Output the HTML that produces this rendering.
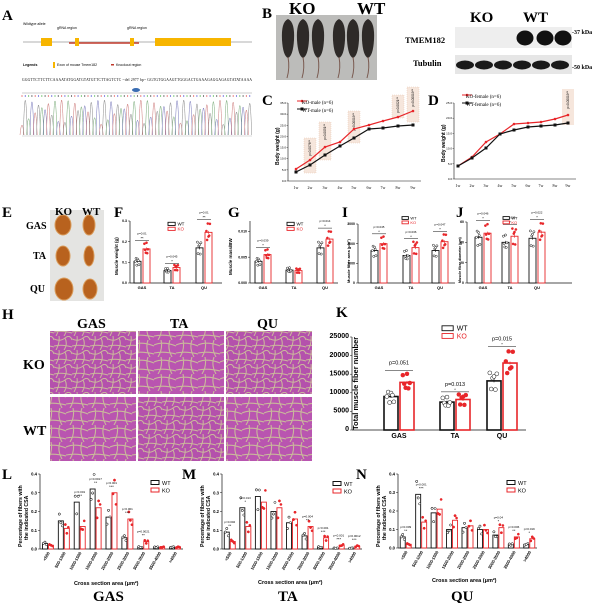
<!DOCTYPE html>
<html><head><meta charset="utf-8"><style>
html,body{margin:0;padding:0;background:#fff;}
svg{display:block;font-family:"Liberation Sans",sans-serif;}
.L{font-family:"Liberation Serif",serif;font-weight:bold;font-size:15px;}
.S{font-family:"Liberation Serif",serif;font-weight:bold;}
</style></head><body>
<svg id="s" width="600" height="603" viewBox="0 0 600 603" xmlns="http://www.w3.org/2000/svg">
<text class="L" x="2" y="20">A</text>
<text class="L" x="262" y="18">B</text>
<text class="L" x="262" y="105">C</text>
<text class="L" x="428" y="105">D</text>
<text class="L" x="2" y="217">E</text>
<text class="L" x="114" y="217">F</text>
<text class="L" x="228" y="217">G</text>
<text class="L" x="342" y="217">I</text>
<text class="L" x="456" y="217">J</text>
<text class="L" x="2" y="319">H</text>
<text class="L" x="336" y="317">K</text>
<text class="L" x="2" y="479">L</text>
<text class="L" x="182" y="479">M</text>
<text class="L" x="356" y="479">N</text>

<text x="23" y="25" style="font-size:3.5px">Wildtype allele</text>
<text x="57" y="29" style="font-size:3.5px">gRNA region</text>
<text x="127" y="29" style="font-size:3.5px">gRNA region</text>
<line x1="23" y1="42" x2="252" y2="42" stroke="#ccc" stroke-width="1.5"/>
<rect x="41" y="38" width="11" height="8" fill="#f7b500"/>
<line x1="69" y1="43" x2="139" y2="43" stroke="#c0392b" stroke-width="1.6"/>
<rect x="75" y="38" width="4" height="8" fill="#f7b500"/>
<rect x="130" y="38" width="4" height="8" fill="#f7b500"/>
<rect x="155" y="38" width="76" height="8" fill="#f7b500"/>
<text x="23" y="66" style="font-size:3.5px;font-weight:bold">Legends</text>
<rect x="53" y="62" width="2" height="6" fill="#f7b500"/>
<text x="57" y="66" style="font-size:3.5px">Exon of mouse Tmem182</text>
<rect x="111" y="64" width="3" height="1.5" fill="#c0392b"/>
<text x="116" y="66" style="font-size:3.5px">Knockout region</text>
<text x="22" y="81" style="font-size:3.6px;font-family:'Liberation Serif',serif" textLength="230">GGGTTCTTCTTCAAAATATGGATGTATGTTCTTAGTCTC ~del 2977 bp~ GGTGTGGAAGTTGGGACTGAAAGAGGAGAGTATATAAAA</text>
<ellipse cx="136" cy="90" rx="4" ry="2" fill="#3a6db3"/>
<line x1="22" y1="93" x2="252" y2="93" stroke="#999" stroke-width="0.6"/>
<g id="chrom"></g>
<line x1="22" y1="136" x2="252" y2="136" stroke="#bbb" stroke-width="0.6"/>

<rect x="276" y="15" width="101" height="65" fill="#bcbcba"/>
<g id="mice"></g>
<text class="S" x="289" y="14" style="font-size:17px">KO</text>
<text class="S" x="357" y="14" style="font-size:17px">WT</text>
<text class="S" x="470" y="22" style="font-size:15px">KO</text>
<text class="S" x="523" y="22" style="font-size:15px">WT</text>
<text class="S" x="405" y="43" style="font-size:8.5px">TMEM182</text>
<text class="S" x="413" y="66" style="font-size:8.5px">Tubulin</text>
<rect x="455" y="27" width="117" height="21" fill="#eeeeee"/>
<rect x="455" y="55" width="117" height="19" fill="#e6e6e6"/>
<g id="blot"></g>
<text class="S" x="572" y="34" style="font-size:6px">-37 kDa</text>
<text class="S" x="572" y="69" style="font-size:6px">-50 kDa</text>

<rect x="50" y="210" width="54" height="91" fill="#e4e4e2"/>
<g id="musc"></g>
<text class="S" x="55" y="215" style="font-size:11px">KO</text>
<text class="S" x="82" y="215" style="font-size:11px">WT</text>
<text class="S" x="26" y="229" style="font-size:10px">GAS</text>
<text class="S" x="33" y="259" style="font-size:10px">TA</text>
<text class="S" x="30" y="292" style="font-size:10px">QU</text>

<defs>
<pattern id="hist" width="18" height="14" patternUnits="userSpaceOnUse">
<rect width="18" height="14" fill="#b451ac"/>
<path d="M0 3 Q6 6 11 2 T18 4 M5 0 Q6 7 2 14 M11 2 Q14 8 10 14 M0 10 Q8 8 18 11" stroke="#cbb99c" stroke-width="1" fill="none"/>
</pattern>
<pattern id="hist2" width="22" height="17" patternUnits="userSpaceOnUse">
<rect width="22" height="17" fill="#b955b0"/>
<path d="M0 5 Q9 1 22 6 M7 0 Q9 9 4 17 M16 0 Q13 8 18 17 M0 13 Q10 11 22 14" stroke="#c9b89b" stroke-width="1.1" fill="none"/>
</pattern>
</defs>
<rect x="50" y="331" width="86" height="63" fill="url(#hist)"/>
<rect x="138" y="331" width="86" height="63" fill="url(#hist2)"/>
<rect x="226" y="331" width="86" height="63" fill="url(#hist)"/>
<rect x="50" y="397" width="86" height="64" fill="url(#hist2)"/>
<rect x="138" y="397" width="86" height="64" fill="url(#hist)"/>
<rect x="226" y="397" width="86" height="64" fill="url(#hist2)"/>
<text class="S" x="77" y="328" style="font-size:14px">GAS</text>
<text class="S" x="170" y="328" style="font-size:14px">TA</text>
<text class="S" x="257" y="328" style="font-size:14px">QU</text>
<text class="S" x="23" y="369" style="font-size:14px">KO</text>
<text class="S" x="23" y="435" style="font-size:14px">WT</text>

<g id="g"></g>

<text x="302" y="104" style="font-size:5px;font-family:'Liberation Serif',serif">KO-male (n=6)</text>
<text x="302" y="112" style="font-size:5px;font-family:'Liberation Serif',serif">WT-male (n=6)</text>
<text x="279" y="165" transform="rotate(-90 279 165)" style="font-size:5px;font-weight:bold">Body weight (g)</text>
<text x="466" y="98" style="font-size:5px;font-family:'Liberation Serif',serif">KO-female (n=6)</text>
<text x="466" y="106" style="font-size:5px;font-family:'Liberation Serif',serif">WT-female (n=6)</text>
<text x="445" y="162" transform="rotate(-90 445 162)" style="font-size:5px;font-weight:bold">Body weight (g)</text>

<text x="118" y="275" transform="rotate(-90 118 275)" style="font-size:4.5px;font-weight:bold">Muscle weight (g)</text>
<text x="232" y="275" transform="rotate(-90 232 275)" style="font-size:4.5px;font-weight:bold">Muscle mass/BW</text>
<text x="350" y="283" transform="rotate(-90 350 283)" style="font-size:4px;font-weight:bold">Muscle fiber area (μm²)</text>
<text x="461" y="283" transform="rotate(-90 461 283)" style="font-size:3.6px;font-weight:bold">Muscle fiber diameter (μm)</text>

<text x="358" y="430" transform="rotate(-90 358 430)" style="font-size:7.5px;font-weight:bold">Total muscle fiber number</text>
<text x="22" y="547" transform="rotate(-90 22 547)" style="font-size:5.2px;font-weight:bold">Percentage of fibers with</text>
<text x="28" y="540" transform="rotate(-90 28 540)" style="font-size:5.2px;font-weight:bold">the indicated CSA</text>
<text x="204" y="547" transform="rotate(-90 204 547)" style="font-size:5.2px;font-weight:bold">Percentage of fibers with</text>
<text x="210" y="540" transform="rotate(-90 210 540)" style="font-size:5.2px;font-weight:bold">the indicated CSA</text>
<text x="380" y="547" transform="rotate(-90 380 547)" style="font-size:5.2px;font-weight:bold">Percentage of fibers with</text>
<text x="386" y="540" transform="rotate(-90 386 540)" style="font-size:5.2px;font-weight:bold">the indicated CSA</text>
<text x="74" y="585" style="font-size:5.5px;font-weight:bold">Cross section area (μm²)</text>
<text x="258" y="584" style="font-size:5.5px;font-weight:bold">Cross section area (μm²)</text>
<text x="432" y="582" style="font-size:5.5px;font-weight:bold">Cross section area (μm²)</text>
<text class="S" x="93" y="601" style="font-size:15px">GAS</text>
<text class="S" x="278" y="601" style="font-size:15px">TA</text>
<text class="S" x="451" y="601" style="font-size:15px">QU</text>
</svg>
<script>
const S=document.getElementById('g'),NS='http://www.w3.org/2000/svg';
function el(t,a,p){const e=document.createElementNS(NS,t);for(const k in a)e.setAttribute(k,a[k]);(p||S).appendChild(e);return e;}
function tx(x,y,s,sz,anchor,extra){const e=el('text',Object.assign({x,y,'font-size':sz,'text-anchor':anchor||'start'},extra||{}));e.textContent=s;return e;}
const R='#e8262a',K='#111';
(function(){const g=document.getElementById('chrom');const cols=['#c77','#77b','#7a7','#888'];
for(let i=0;i<70;i++){const x=22+i*3.3;el('circle',{cx:x,cy:96,r:0.6,fill:['#d33','#33c','#3a3','#222'][i%4]},g);
const h=10+Math.abs(Math.sin(i*1.7))*25;el('path',{d:`M${x-2} 135 Q${x} ${135-h*2} ${x+2} 135`,stroke:cols[(i*7)%4],'stroke-width':0.5,fill:'none'},g);}})();
(function(){const g=document.getElementById('mice');[288,303,318,339,353,368].forEach(x=>{
el('path',{d:`M${x} 19 Q${x+7} 22 ${x+6} 40 Q${x+5} 56 ${x} 58 Q${x-5} 56 ${x-6} 40 Q${x-7} 22 ${x} 19Z`,fill:'#2e2a28'},g);el('path',{d:`M${x} 57 Q${x+2} 68 ${x-1} 78`,stroke:'#7a5a50','stroke-width':1,fill:'none'},g);});})();
(function(){const g=document.getElementById('blot');[525,545,563].forEach(x=>el('ellipse',{cx:x,cy:38,rx:8.5,ry:7.5,fill:'#111'},g));
for(let i=0;i<6;i++)el('ellipse',{cx:465+i*19,cy:65,rx:9,ry:4.5,fill:'#1a1a1a'},g);})();
(function(){const g=document.getElementById('musc');[[63,225,8,10],[89,225,6,10],[63,256,7,10],[89,256,5,10],[64,289,9,11],[90,289,7,10]].forEach(([x,y,rx,ry])=>el('ellipse',{cx:x,cy:y,rx,ry,fill:'#b8621e',stroke:'#d99b5a','stroke-width':1},g));})();

function line(ax,y0,y1,xs,ymax,labels,series,legendX,legendY){
 el('line',{x1:ax,y1:y0,x2:ax,y2:y1,stroke:K,'stroke-width':0.6});
 el('line',{x1:ax,y1:y1,x2:xs[xs.length-1]+8,y2:y1,stroke:K,'stroke-width':0.6});
 for(let v=0;v<=ymax;v+=5){const y=y1-(y1-y0)*v/ymax;el('line',{x1:ax-1.5,y1:y,x2:ax,y2:y,stroke:K,'stroke-width':0.4});tx(ax-2,y+1,v.toFixed(1),3,'end');}
 xs.forEach((x,i)=>{tx(x,y1+8,(i+1)+'w',4,'middle',{'font-family':'Liberation Serif,serif'});});
 series.forEach(([c,pts,m])=>{el('polyline',{points:pts.map((p,i)=>xs[i]+','+p).join(' '),fill:'none',stroke:c,'stroke-width':1.2});
  pts.forEach((p,i)=>m=='s'?el('rect',{x:xs[i]-1.5,y:p-1.5,width:3,height:3,fill:c}):el('circle',{cx:xs[i],cy:p,r:1.3,fill:c}));});
 el('line',{x1:legendX,y1:legendY,x2:legendX+10,y2:legendY,stroke:R,'stroke-width':1});el('circle',{cx:legendX+5,cy:legendY,r:1.3,fill:R});
 el('line',{x1:legendX,y1:legendY+8,x2:legendX+10,y2:legendY+8,stroke:K,'stroke-width':1});el('rect',{x:legendX+3.5,y:legendY+6.5,width:3,height:3,fill:K});
}
const xc=[296,310,325,340,354,369,383,398,413];
[[310,138,173,'0.0076'],[325,122,160,'0.0051'],[354,111,143,'0.00019'],[398,95,118,'0.0021'],[413,87,122,'0.00019']].forEach(([x,a,b,s])=>{
 el('rect',{x:x-6,y:a,width:12,height:b-a,fill:'#f6e6dc'});el('rect',{x:x-6,y:a,width:12,height:b-a,fill:'none',stroke:'#e6bba4','stroke-width':0.4,'stroke-dasharray':'1 1'});
 tx(x+1,a+2,'p='+s+'**',3.2,'end',{transform:`rotate(-90 ${x+1} ${a+2})`});});
line(288,103,181,xc,35,0,[[R,[169,160,147,142,129,125,121,117,111]],[K,[172,165,155,146,138,129,128,126,125],'s']],297,101);
const xd=[458,472,486,500,514,528,541,555,568];
el('rect',{x:562,y:89,width:12,height:36,fill:'#f6e6dc'});tx(569,91,'p=0.00019**',3.2,'end',{transform:'rotate(-90 569 91)'});
line(454,103,179,xd,25,0,[[R,[166,157,142,134,124,123,122,119,115]],[K,[166,158,148,134,130,127,126,125,123],'s']],462,95);

function bars(ax,y0,y1,xr,ymax,ticks,fmt,groups,cats,w,gap,pv,leg,fs){
 el('line',{x1:ax,y1:y0,x2:ax,y2:y1,stroke:K,'stroke-width':0.7});
 el('line',{x1:ax,y1:y1,x2:xr,y2:y1,stroke:K,'stroke-width':0.7});
 const Y=v=>y1-(y1-y0)*v/ymax;
 ticks.forEach(v=>{el('line',{x1:ax-2,y1:Y(v),x2:ax,y2:Y(v),stroke:K,'stroke-width':0.5});tx(ax-3,Y(v)+1.2,fmt(v),fs||3.5,'end',{'font-weight':'bold'});});
 groups.forEach(([cx,a,b],i)=>{
  [[a,K,cx-gap/2-w],[b,R,cx+gap/2]].forEach(([v,c,x],j)=>{
   el('rect',{x,y:Y(v),width:w,height:y1-Y(v),fill:'#fff',stroke:c,'stroke-width':w>10?1.6:0.9});
   el('line',{x1:x+w/2,y1:Y(v)-1.5,x2:x+w/2,y2:Y(v)+1.5,stroke:c,'stroke-width':0.6});
   for(let k=0;k<6;k++){const dv=v*(1+0.18*Math.sin(k*2.3+i+j));el('circle',{cx:x+w*0.2+((k*37)%6)/6*w*0.6,cy:Y(dv),r:w>10?2:1.1,fill:j?R:'#fff',stroke:c,'stroke-width':0.5});}
  });
  if(cats)tx(cx,y1+(fs?8:6),cats[i],fs?7:4,'middle',{'font-weight':'bold'});
  if(pv&&pv[i]){const t=Y(Math.max(a,b)*1.25);el('line',{x1:cx-w,y1:t,x2:cx+w,y2:t,stroke:K,'stroke-width':0.5});tx(cx,t-1,pv[i][1],4,'middle');tx(cx,t-6,pv[i][0],fs?5.5:3,'middle');}
 });
 if(leg){const [lx,ly,s]=leg;el('rect',{x:lx,y:ly-s*0.6,width:s*1.6,height:s*0.7,fill:'#fff',stroke:K,'stroke-width':0.9});el('rect',{x:lx,y:ly+s*0.5,width:s*1.6,height:s*0.7,fill:'#fff',stroke:R,'stroke-width':0.9});
  tx(lx+s*2.1,ly+s*0.1,'WT',s,'start');tx(lx+s*2.1,ly+s*1.2,'KO',s,'start',{fill:R});}
}
const C3=['GAS','TA','QU'];
bars(130,221,283,222,0.3,[0,0.1,0.2,0.3],v=>v.toFixed(1),[[142,.105,.165],[172,.06,.075],[204,.17,.245]],C3,7,2,[['p=0.01','**'],['p=0.045','*'],['p=0.01','**']],[168,225,4.5]);
bars(250,221,283,338,0.012,[0,0.005,0.010],v=>v.toFixed(3),[[263,.0042,.0055],[294,.0025,.0024],[325,.0068,.0085]],C3,7,2,[['p=0.039','*'],null,['p=0.014','*']],[287,225,4.5]);
bars(358,224,283,455,3000,[0,1000,2000,3000],v=>v,[[379,1650,2000],[411,1400,1800],[440,1650,2100]],C3,7,2,[['p=0.045','*'],['p=0.036','*'],['p=0.047','*']],[402,219,4]);
bars(467,222,283,572,60,[0,20,40,60],v=>v,[[483,45,49],[510,40,46],[537,44,50]],C3,7,2,[['p=0.046','*'],['p=0.009','*'],['p=0.022','*']],[503,219,4]);
bars(352,337,430,526,25000,[0,5000,10000,15000,20000,25000],v=>v,[[399,9000,12800],[455,7500,8200],[502,13200,18000]],C3,14,2,[['p=0.051',''],['p=0.013','*'],['p=0.015','*']],[442,330,7],7);

function hist(ax,xr,y0,y1,data,leg,pv){
 el('line',{x1:ax,y1:y0,x2:ax,y2:y1,stroke:K,'stroke-width':0.7});
 el('line',{x1:ax,y1:y1,x2:xr,y2:y1,stroke:K,'stroke-width':0.7});
 const Y=v=>y1-(y1-y0)*v/0.4;
 [0,.1,.2,.3,.4].forEach(v=>{el('line',{x1:ax-2,y1:Y(v),x2:ax,y2:Y(v),stroke:K,'stroke-width':0.5});tx(ax-3,Y(v)+1.5,v.toFixed(1),4.2,'end',{'font-weight':'bold'});});
 const labs=['<500','500-1000','1000-1500','1500-2000','2000-2500','2500-3000','3000-3500','3500-4000','>4000'];
 const st=(xr-ax)/9;
 data.forEach(([a,b],i)=>{const cx=ax+st*(i+0.5);
  [[a,K,cx-5.5],[b,R,cx+0.5]].forEach(([v,c,x],j)=>{el('rect',{x,y:Y(v),width:5,height:y1-Y(v),fill:'#fff',stroke:c,'stroke-width':0.9});
   for(let k=0;k<5;k++){const dv=v*(1+0.25*Math.sin(k*2.1+i*1.3+j));el('circle',{cx:x+1+(k%3)*1.5,cy:Y(dv),r:1.1,fill:j?R:'#fff',stroke:c,'stroke-width':0.5});}});
  tx(cx+2,y1+4,labs[i],4.2,'end',{transform:`rotate(-60 ${cx+2} ${y1+4})`,'font-weight':'bold'});
  if(pv[i]){const t=Y(Math.max(a,b))-5;tx(cx,t,'***'.slice(0,pv[i][1]),4,'middle');tx(cx,t-4,pv[i][0],3,'middle');}
 });
 const [lx,ly]=leg;el('rect',{x:lx,y:ly-3.5,width:8,height:4,fill:'#fff',stroke:K,'stroke-width':1});el('rect',{x:lx,y:ly+4,width:8,height:4,fill:'#fff',stroke:R,'stroke-width':1});
 tx(lx+11,ly+1,'WT',5.5);tx(lx+11,ly+8.5,'KO',5.5);
}
hist(40,183,474,549,[[.03,.02],[.15,.11],[.25,.12],[.32,.22],[.17,.30],[.06,.16],[.01,.04],[.01,.01],[.01,.01]],[151,484],[0,0,['p<0.001',3],['p=0.0017',2],['p<0.001',3],['p<0.001',3],['p=0.0021',2],0,0]);
hist(222,362,474,549,[[.09,.04],[.22,.12],[.28,.25],[.20,.22],[.14,.16],[.07,.12],[.01,.06],[.005,.02],[.005,.015]],[333,485],[['p=0.002',2],['p=0.013',1],0,0,0,['p=0.004',2],['p<0.001',3],['p<0.001',3],['p=0.0012',3]]);
hist(398,537,474,548,[[.06,.02],[.29,.14],[.19,.21],[.10,.15],[.11,.12],[.10,.10],[.07,.11],[.02,.06],[.02,.05]],[507,484],[['p=0.009',2],['p<0.001',3],0,0,0,0,['p=0.04',1],['p=0.006',2],['p=0.019',1]]);
</script>
</body></html>
